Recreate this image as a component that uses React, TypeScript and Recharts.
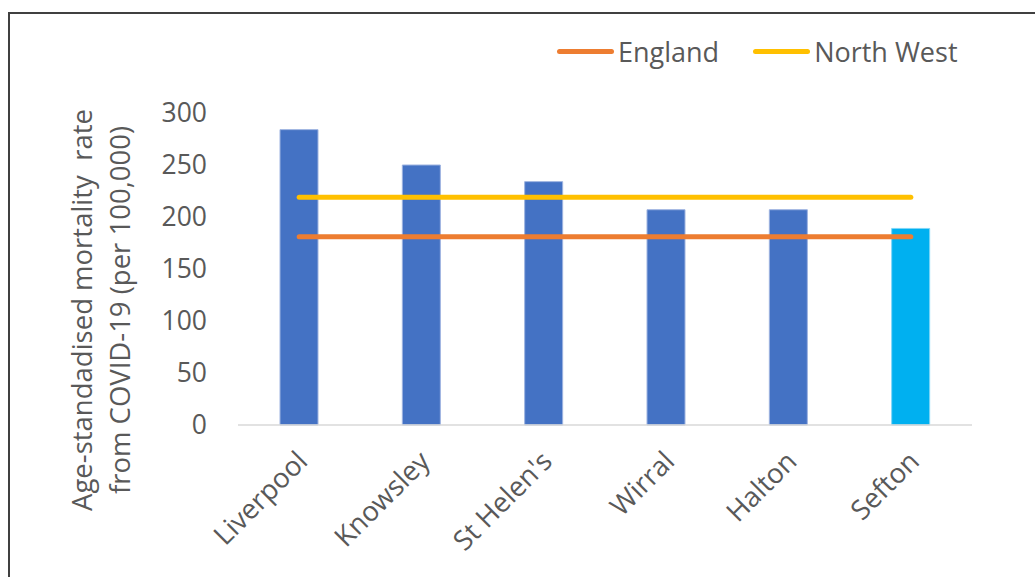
import React from "react";
import { Bar, Cell, ComposedChart, Line, XAxis, YAxis } from "recharts";

const areas = ["Liverpool", "Knowsley", "St Helen's", "Wirral", "Halton", "Sefton"];
const rates = [284, 250, 234, 207, 207, 189];
const england = [181, 181, 181, 181, 181, 181];
const northWest = [219, 219, 219, 219, 219, 219];
const yTicks = [0, 50, 100, 150, 200, 250, 300];

const data = areas.map((name, i) => ({
  name,
  rate: rates[i],
  england: england[i],
  northWest: northWest[i],
}));

const FONT = "'Open Sans', sans-serif";
const TEXT = "#595959";

const AreaTick = (props: any) => {
  const { x, y, payload } = props;
  return (
    <text
      transform={`translate(${x + 10},${y + 38}) rotate(-45)`}
      textAnchor="end"
      fontFamily={FONT}
      fontSize={27.5}
      fill={TEXT}
    >
      {payload.value}
    </text>
  );
};

const AxisTitle = () => (
  <g fontFamily={FONT} fontSize={27.5} fill={TEXT} textAnchor="middle">
    <text transform="translate(92,310) rotate(-90)">Age-standadised mortality&#160; rate</text>
    <text transform="translate(130,310) rotate(-90)">from COVID-19 (per 100,000)</text>
  </g>
);

const LegendBox = () => (
  <div style={{ position: "absolute", left: 557, top: 33, display: "flex", alignItems: "center", fontFamily: FONT, fontSize: 27, color: TEXT, whiteSpace: "nowrap" }}>
    <span style={{ display: "inline-block", width: 57, height: 5, borderRadius: 3, background: "#ED7D31", marginRight: 4 }} />
    <span style={{ marginRight: 34 }}>England</span>
    <span style={{ display: "inline-block", width: 57, height: 5, borderRadius: 3, background: "#FFC000", marginRight: 4 }} />
    <span>North West</span>
  </div>
);

export default function App() {
  return (
    <div style={{ position: "absolute", left: 0, top: 0, width: 1035, height: 577, background: "#fff", overflow: "hidden" }}>
      <div
        style={{
          position: "absolute",
          left: 8,
          top: 12,
          width: 1100,
          height: 700,
          borderLeft: "2px solid #404040",
          borderTop: "2px solid #404040",
        }}
      />
      <div style={{ position: "absolute", left: 0, top: 0 }}>
        <ComposedChart
          width={1035}
          height={577}
          data={data}
          margin={{ top: 113, right: 63, bottom: 12, left: 178 }}
          barSize={38}
        >
          <XAxis
            dataKey="name"
            axisLine={{ stroke: "#d9d9d9", strokeWidth: 1.5 }}
            tickLine={false}
            tickSize={0}
            tickMargin={0}
            height={140}
            interval={0}
            tick={<AreaTick />}
          />
          <YAxis
            domain={[0, 300]}
            ticks={yTicks}
            width={60}
            axisLine={false}
            tickLine={false}
            tickSize={0}
            tickMargin={31}
            tick={{ fontFamily: FONT, fontSize: 26.5, fill: TEXT }}
          />
          <Bar dataKey="rate" isAnimationActive={false} strokeWidth={1}>
            {data.map((d, i) => (
              <Cell
                key={d.name}
                fill={i === areas.length - 1 ? "#00B0F0" : "#4472C4"}
                stroke={i === areas.length - 1 ? "#7fd6f7" : "#9db3e0"}
              />
            ))}
          </Bar>
          <Line dataKey="england" stroke="#ED7D31" strokeWidth={5} strokeLinecap="round" dot={false} activeDot={false} isAnimationActive={false} />
          <Line dataKey="northWest" stroke="#FFC000" strokeWidth={5} strokeLinecap="round" dot={false} activeDot={false} isAnimationActive={false} />
          <AxisTitle />
        </ComposedChart>
      </div>
      <LegendBox />
    </div>
  );
}
